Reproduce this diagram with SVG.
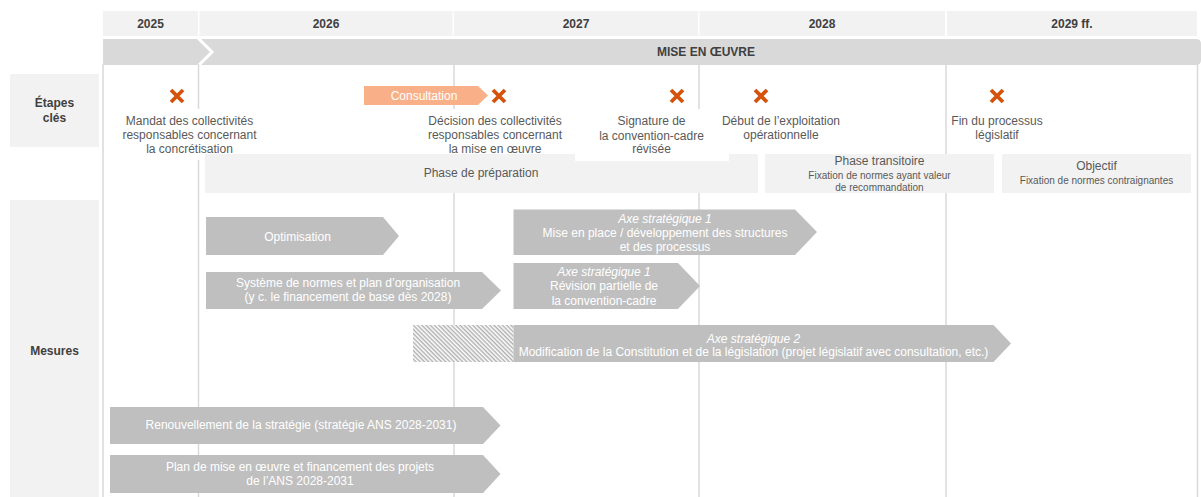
<svg xmlns="http://www.w3.org/2000/svg" width="1201" height="497" viewBox="0 0 1201 497">
<style>
text{font-family:"Liberation Sans",Arial,sans-serif;}
.yr{font-size:12px;font-weight:bold;fill:#404040;text-anchor:middle;}
.hd{font-size:12px;font-weight:bold;fill:#404040;text-anchor:middle;}
.lbl{font-size:12px;fill:#595959;text-anchor:middle;}
.sm{font-size:10px;fill:#595959;text-anchor:middle;}
.ms{font-size:12px;fill:#ffffff;text-anchor:middle;}
.it{font-style:italic;}
.cell{fill:#f2f2f2;}
.arr{fill:#bfbfbf;}
.grid{stroke:#d9d9d9;stroke-width:1.5;fill:none;}
.wb{fill:#ffffff;}
</style>
<defs>
<pattern id="hatch" width="3" height="3" patternUnits="userSpaceOnUse" patternTransform="rotate(45)">
<rect width="3" height="3" fill="#ffffff"/>
<line x1="0" y1="0.75" x2="3" y2="0.75" stroke="#a6a6a6" stroke-width="1.3"/>
</pattern>
<g id="xmark">
<path d="M-6,-6 L6,6 M6,-6 L-6,6" stroke="#d4520c" stroke-width="3.8" fill="none"/>
</g>
</defs>
<rect width="1201" height="497" fill="#ffffff"/>

<g id="header">
<rect class="cell" x="103" y="11" width="95" height="25"/>
<rect class="cell" x="199.5" y="11" width="253" height="25"/>
<rect class="cell" x="454" y="11" width="244" height="25"/>
<rect class="cell" x="699.5" y="11" width="245.5" height="25"/>
<rect class="cell" x="947" y="11" width="250" height="25"/>
<text class="yr" x="150.5" y="28">2025</text>
<text class="yr" x="326" y="28">2026</text>
<text class="yr" x="576" y="28">2027</text>
<text class="yr" x="822" y="28">2028</text>
<text class="yr" x="1072" y="28">2029 ff.</text>
</g>

<g id="bar">
<path d="M103,39 H1196 Q1201,39 1201,44 V60 Q1201,65 1196,65 H103 Z" fill="#d9d9d9"/>
<polyline points="198,38 212,52 198,66" fill="none" stroke="#ffffff" stroke-width="3"/>
<text class="hd" x="706" y="56">MISE EN ŒUVRE</text>
</g>

<g id="connectors">
<line class="grid" x1="103" y1="64" x2="103" y2="497"/>
<line class="grid" x1="198.5" y1="64" x2="198.5" y2="497"/>
<line class="grid" x1="454" y1="64" x2="454" y2="497"/>
<line class="grid" x1="699" y1="64" x2="699" y2="497"/>
<line class="grid" x1="946" y1="64" x2="946" y2="497"/>
<line class="grid" x1="1197.5" y1="64" x2="1197.5" y2="497"/>
</g>

<g id="row-labels">
<rect class="cell" x="10" y="74" width="89" height="73"/>
<text class="hd" x="54.5" y="107">Étapes</text>
<text class="hd" x="54.5" y="122">clés</text>
<rect class="cell" x="10" y="200" width="89" height="297"/>
<text class="hd" x="54.5" y="355">Mesures</text>
</g>

<g id="consultation">
<polygon points="364,86 478,86 488,95.5 478,105 364,105" fill="#f9b089"/>
<text x="424" y="100" style="font-size:12px;fill:#ffffff;text-anchor:middle;">Consultation</text>
</g>

<g id="ms-mandat">
<rect class="wb" x="120" y="109" width="140" height="51"/>
<use href="#xmark" x="177" y="96"/>
<text class="lbl" x="189.5" y="124.5">Mandat des collectivités</text>
<text class="lbl" x="189.5" y="139">responsables concernant</text>
<text class="lbl" x="189.5" y="153">la concrétisation</text>
</g>

<g id="ms-decision">
<rect class="wb" x="424" y="109" width="142" height="45"/>
<use href="#xmark" x="499" y="96"/>
<text class="lbl" x="495" y="124.5">Décision des collectivités</text>
<text class="lbl" x="495" y="139">responsables concernant</text>
<text class="lbl" x="495" y="153">la mise en œuvre</text>
</g>

<g id="ms-fin">
<rect class="wb" x="948" y="109" width="98" height="45"/>
<use href="#xmark" x="997" y="96"/>
<text class="lbl" x="997" y="124.5">Fin du processus</text>
<text class="lbl" x="997" y="139">législatif</text>
</g>

<g id="phase-preparation">
<rect class="cell" x="205" y="154" width="553" height="39"/>
<text class="lbl" x="481" y="177">Phase de préparation</text>
</g>

<g id="ms-signature">
<rect class="wb" x="575" y="109" width="154" height="52"/>
<use href="#xmark" x="677" y="96"/>
<text class="lbl" x="651.5" y="124.5">Signature de</text>
<text class="lbl" x="651.5" y="139.5">la convention-cadre</text>
<text class="lbl" x="651.5" y="153">révisée</text>
</g>

<g id="ms-debut">
<rect class="wb" x="729" y="109" width="115" height="45"/>
<use href="#xmark" x="761" y="96"/>
<text class="lbl" x="781" y="124.5">Début de l’exploitation</text>
<text class="lbl" x="781" y="139">opérationnelle</text>
</g>

<g id="phase-transitoire">
<rect class="cell" x="765" y="154" width="229" height="39"/>
<text class="lbl" x="879.5" y="165">Phase transitoire</text>
<text class="sm" x="879.5" y="178.5">Fixation de normes ayant valeur</text>
<text class="sm" x="879.5" y="190.5">de recommandation</text>
</g>

<g id="objectif">
<rect class="cell" x="1002" y="154" width="189" height="39"/>
<text class="lbl" x="1096.5" y="170">Objectif</text>
<text class="sm" x="1096.5" y="184">Fixation de normes contraignantes</text>
</g>

<g id="m-optimisation">
<polygon class="arr" points="206,217 383,217 399,236 383,255 206,255"/>
<text class="ms" x="297.5" y="240.5">Optimisation</text>
</g>

<g id="m-systeme">
<polygon class="arr" points="206,272 482,272 501,290.5 482,309 206,309"/>
<text class="ms" x="348" y="287">Système de normes et plan d’organisation</text>
<text class="ms" x="348" y="301">(y c. le financement de base dès 2028)</text>
</g>

<g id="m-axe1-structures">
<polygon class="arr" points="513.5,209.5 795,209.5 817,232 795,255 513.5,255"/>
<text class="ms it" x="665" y="222.5">Axe stratégique 1</text>
<text class="ms" x="665" y="237">Mise en place / développement des structures</text>
<text class="ms" x="665" y="251">et des processus</text>
</g>

<g id="m-axe1-revision">
<polygon class="arr" points="513.5,263 678,263 700,286 678,309 513.5,309"/>
<text class="ms it" x="604" y="275.5">Axe stratégique 1</text>
<text class="ms" x="604" y="290">Révision partielle de</text>
<text class="ms" x="604" y="304.5">la convention-cadre</text>
</g>

<g id="m-axe2">
<rect x="413" y="325" width="100.5" height="37" fill="url(#hatch)"/>
<polygon class="arr" points="513.5,325 993.5,325 1011,343.5 993.5,362 513.5,362"/>
<text class="ms it" x="753.5" y="342.5">Axe stratégique 2</text>
<text class="ms" x="753.5" y="356">Modification de la Constitution et de la législation (projet législatif avec consultation, etc.)</text>
</g>

<g id="m-renouvellement">
<polygon class="arr" points="110,407 483,407 500.5,425.5 483,444 110,444"/>
<text class="ms" x="301" y="428.5">Renouvellement de la stratégie (stratégie ANS 2028-2031)</text>
</g>

<g id="m-plan">
<polygon class="arr" points="110,455 483,455 500.5,474 483,493 110,493"/>
<text class="ms" x="300" y="471">Plan de mise en œuvre et financement des projets</text>
<text class="ms" x="300" y="485">de l’ANS 2028-2031</text>
</g>
</svg>
